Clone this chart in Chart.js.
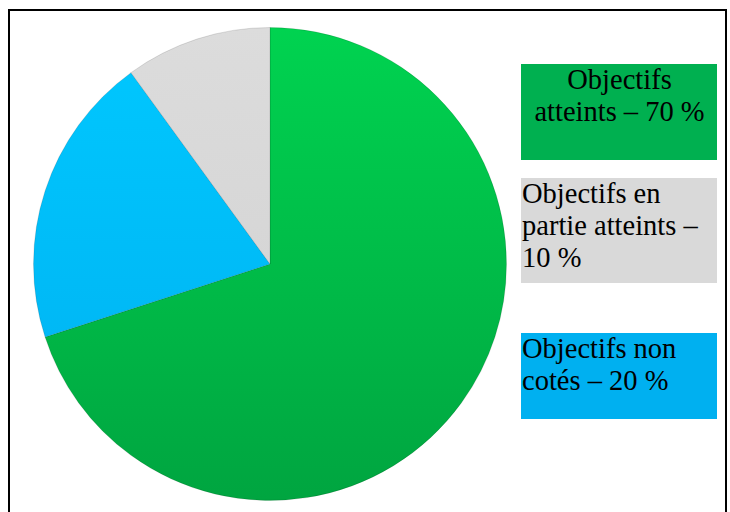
<!DOCTYPE html>
<html>
<head>
<meta charset="utf-8">
<script src="https://cdn.jsdelivr.net/npm/chart.js@4/dist/chart.umd.min.js"></script>
<style>
  body { margin: 0; background: #fff; width: 730px; height: 512px; overflow: hidden; position: relative; }
  #frame { position: absolute; left: 8px; top: 9px; width: 715px; height: 520px; border: 2px solid #000; }
  #pieBox { position: absolute; left: 33px; top: 27px; width: 474px; height: 474px; }
  .key { position: absolute; left: 521px; width: 196px; box-sizing: border-box;
         font-family: "Liberation Serif", serif; font-size: 28.5px; line-height: 32px; color: #000; padding-left: 1px; white-space: nowrap; }
</style>
</head>
<body>
<div id="frame"></div>
<div id="pieBox"><canvas id="myPieChart"></canvas></div>
<div id="legend"></div>
<script>
// slice data, drawn clockwise from 12 o'clock
const labels = ['Objectifs atteints', 'Objectifs non cotés', 'Objectifs en partie atteints'];
const values = [70, 20, 10];
const topColors = ['#00d350', '#00c8ff', '#dcdcdc'];
const bottomColors = ['#00a540', '#00b0f0', '#d0d0d0'];

// legend boxes (order as shown on the right)
const keyLines = [
    ['Objectifs', 'atteints – 70 %'],
    ['Objectifs en', 'partie atteints –', '10 %'],
    ['Objectifs non', 'cotés – 20 %']
];
const keyColors = ['#00b050', '#d9d9d9', '#00b0f0'];
const keyTops = [64, 178, 333];
const keyHeights = [96, 105, 86];
const keyAlign = ['center', 'left', 'left'];

const legend = document.getElementById('legend');
keyLines.forEach((lines, i) => {
    const d = document.createElement('div');
    d.className = 'key';
    d.style.top = keyTops[i] + 'px';
    d.style.height = keyHeights[i] + 'px';
    d.style.background = keyColors[i];
    d.style.textAlign = keyAlign[i];
    d.innerHTML = lines.join('<br>');
    legend.appendChild(d);
});

function sliceFill(context) {
    const chart = context.chart;
    const area = chart.chartArea;
    if (!area) return topColors[context.dataIndex];
    const g = chart.ctx.createLinearGradient(0, area.top, 0, area.bottom);
    g.addColorStop(0, topColors[context.dataIndex]);
    g.addColorStop(1, bottomColors[context.dataIndex]);
    return g;
}

const ctx = document.getElementById('myPieChart').getContext('2d');
new Chart(ctx, {
    type: 'pie',
    data: {
        labels: labels,
        datasets: [{
            data: values,
            backgroundColor: sliceFill,
            borderColor: 'rgba(0,0,0,0.12)',
            borderWidth: 1,
        }]
    },
    options: {
        responsive: true,
        maintainAspectRatio: false,
        animation: false,
        layout: { padding: 0 },
        plugins: {
            legend: { display: false },
            tooltip: { enabled: false }
        }
    }
});
</script>
</body>
</html>
